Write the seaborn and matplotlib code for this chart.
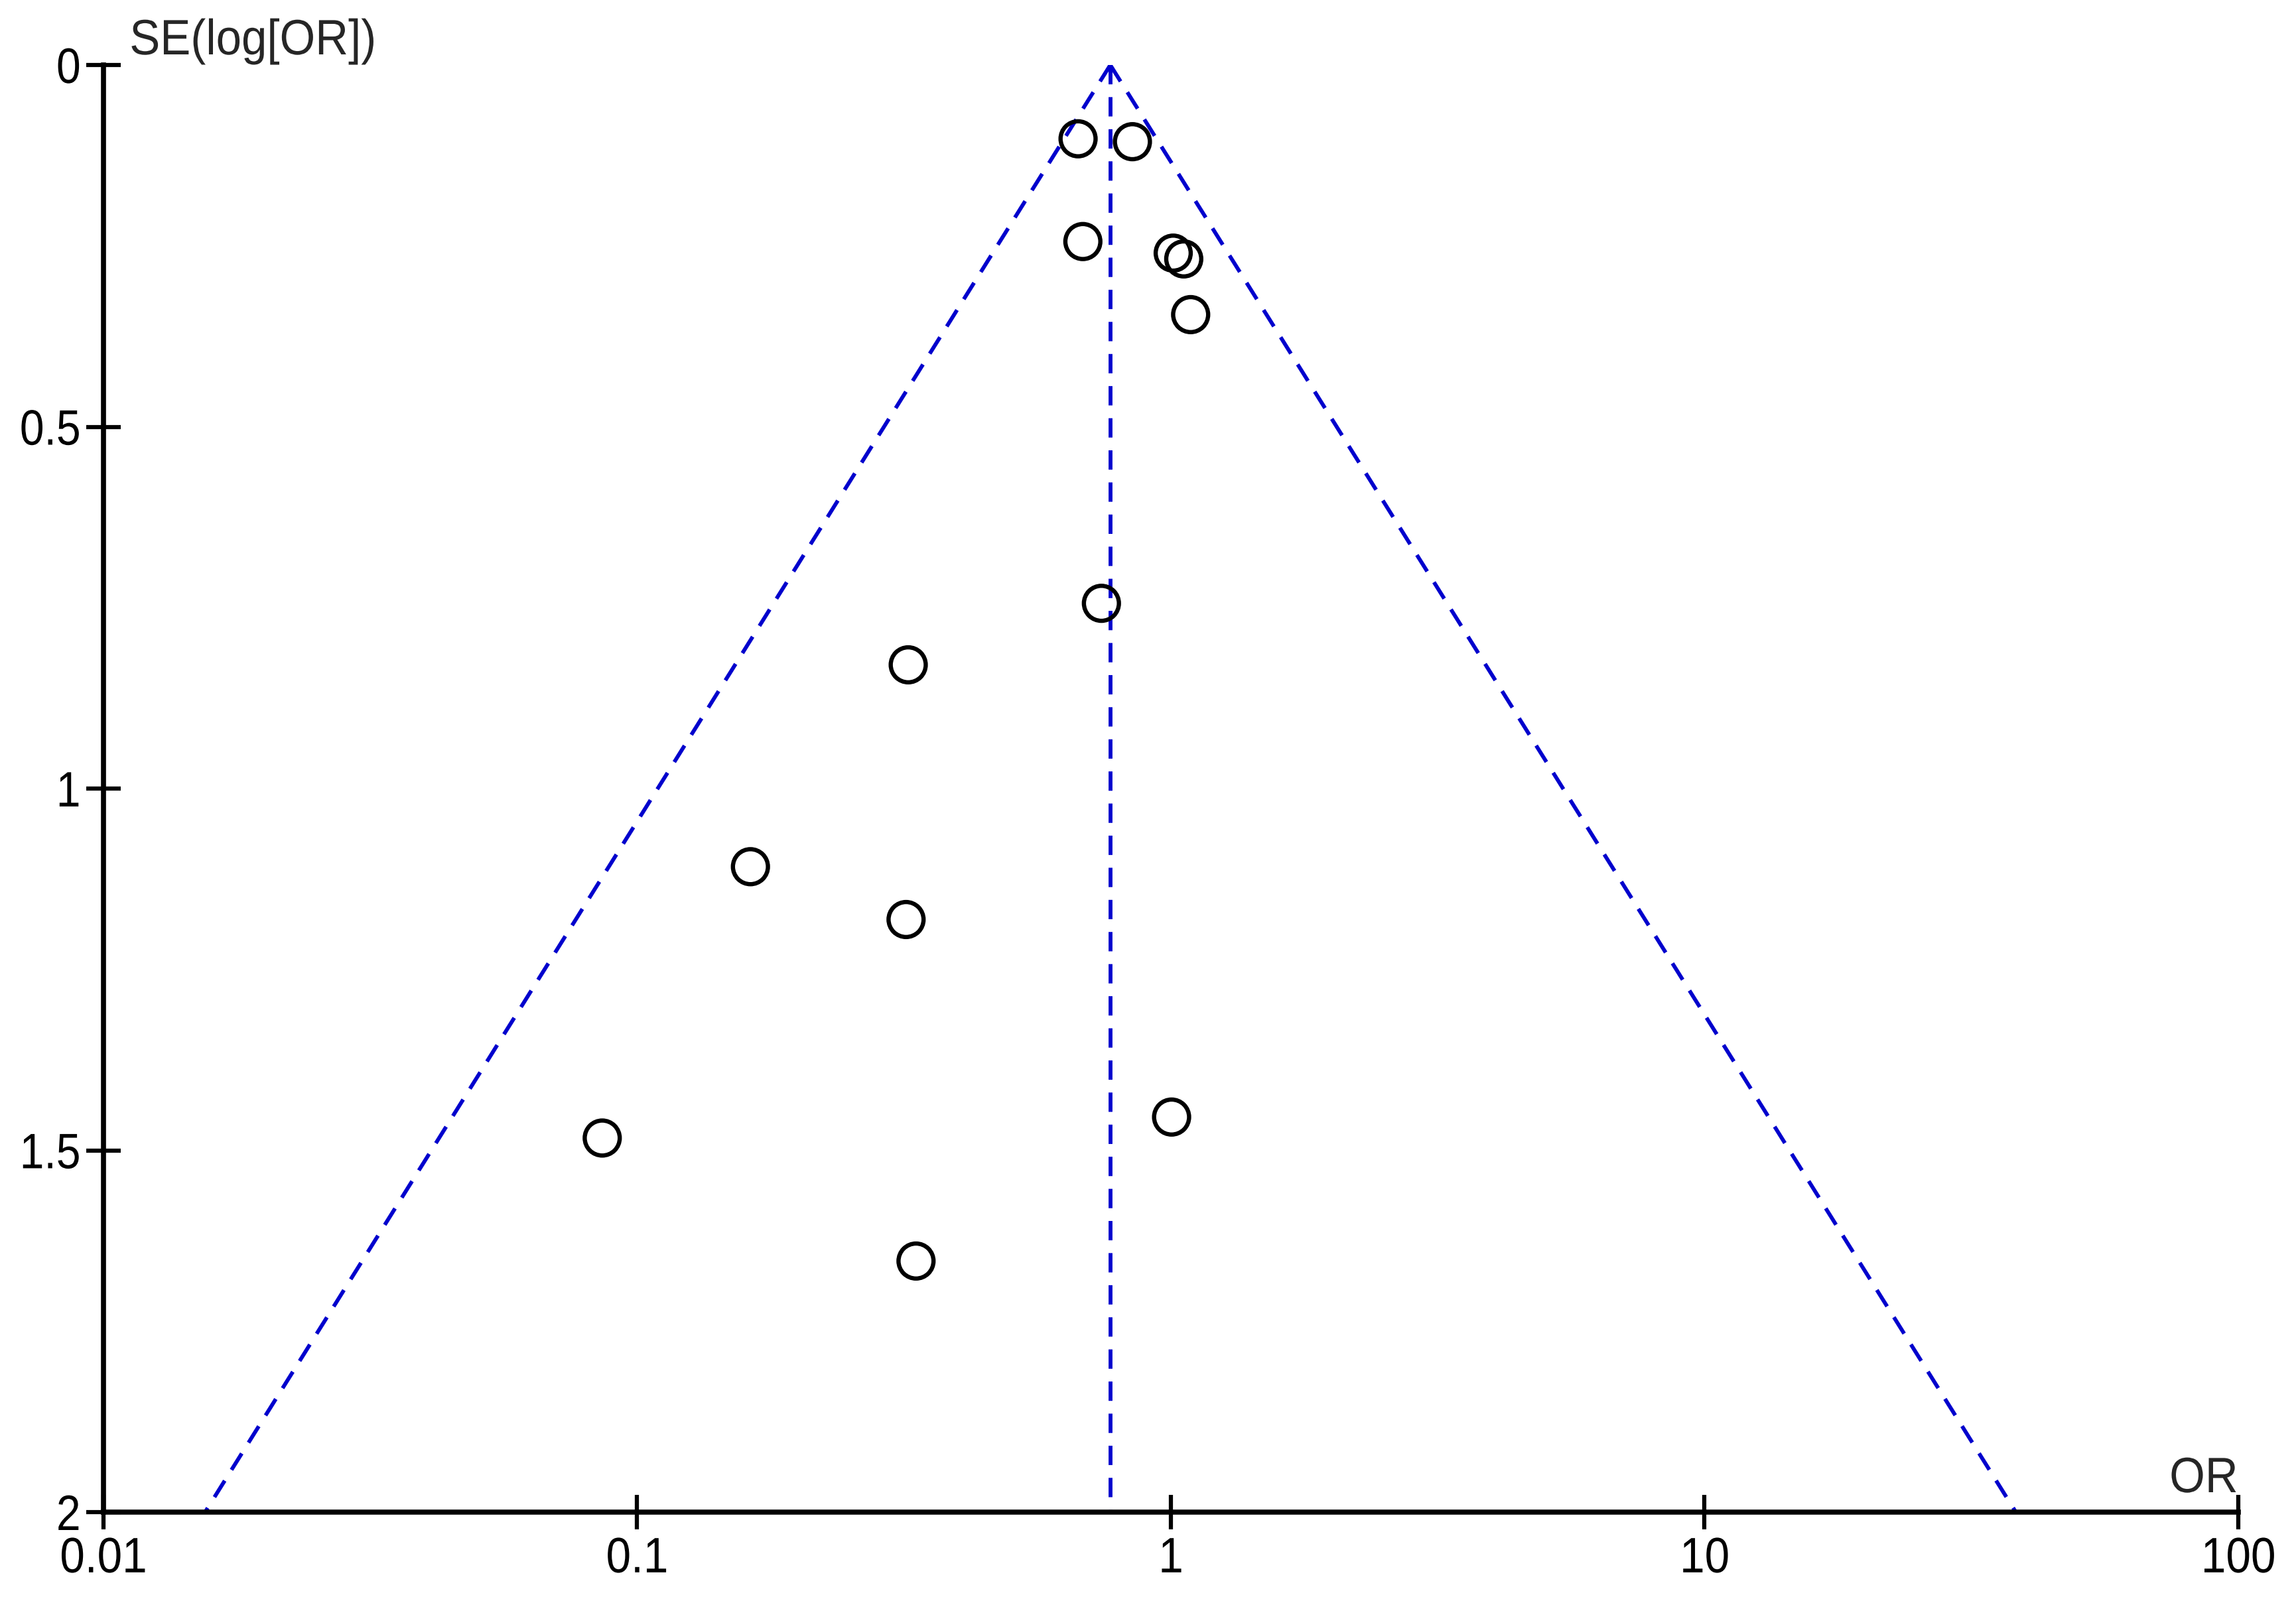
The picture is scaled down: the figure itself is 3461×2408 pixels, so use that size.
import numpy as np
import pandas as pd
import matplotlib
matplotlib.use("Agg")
import matplotlib.pyplot as plt
import matplotlib.patheffects as pe
from matplotlib.transforms import Affine2D
import seaborn as sns

# studies: odds ratio and standard error of log(OR)
odds_ratio = [0.670, 0.847, 0.684, 1.010, 1.057, 1.089, 0.741, 0.322, 0.163, 0.319, 0.086, 1.003, 0.333]
se_log_or = [0.102, 0.106, 0.244, 0.260, 0.268, 0.345, 0.744, 0.829, 1.108, 1.181, 1.483, 1.454, 1.653]

# pooled estimate and funnel limits (OR, SE)
pooled_or = [0.770, 0.770]
pooled_se = [0.0, 2.0]
left_or = [0.770, 0.0155]
right_or = [0.770, 38.3]
funnel_se = [0.0, 2.0]

x_ticks = [0.01, 0.1, 1, 10, 100]
x_tick_labels = ["0.01", "0.1", "1", "10", "100"]
y_ticks = [0, 0.5, 1, 1.5, 2]
y_tick_labels = ["0", "0.5", "1", "1.5", "2"]


class Narrow(pe.AbstractPathEffect):
    # squeeze text horizontally to look like a narrow font
    def __init__(self, sx=0.9, anchor="left"):
        super().__init__()
        self.sx = sx
        self.anchor = anchor

    def draw_path(self, renderer, gc, tpath, affine, rgbFace=None):
        ext = tpath.get_extents()
        if self.anchor == "right":
            x0 = ext.x1
        elif self.anchor == "center":
            x0 = (ext.x0 + ext.x1) / 2
        else:
            x0 = ext.x0
        t = Affine2D().translate(-x0, 0).scale(self.sx, 1).translate(x0, 0) + affine
        renderer.draw_path(gc, tpath, t, rgbFace)


sns.set_style("ticks")
plt.rcParams["font.family"] = ["Liberation Sans", "DejaVu Sans"]

df = pd.DataFrame({"OR": odds_ratio, "SE": se_log_or})

fig = plt.figure(figsize=(34.62, 24.08), dpi=100)
ax = fig.add_axes([156 / 3462, 1 - 2280 / 2408, (3374 - 156) / 3462, (2280 - 98) / 2408])

blue = "#0000CD"
line_kw = dict(color=blue, linewidth=4.2, dashes=(5.0, 3.3), estimator=None, sort=False, legend=False)
sns.lineplot(x=left_or, y=funnel_se, ax=ax, **line_kw)
sns.lineplot(x=right_or, y=funnel_se, ax=ax, **line_kw)
sns.lineplot(x=pooled_or, y=pooled_se, ax=ax, **line_kw)

sns.scatterplot(data=df, x="OR", y="SE", ax=ax, s=38 ** 2, marker="o",
                facecolors="none", edgecolor="black", linewidth=4.6, zorder=5)

ax.set_xscale("log")
ax.set_xlim(0.01, 100)
ax.set_ylim(2, 0)
ax.set_xticks(x_ticks)
ax.set_xticklabels(x_tick_labels)
ax.set_yticks(y_ticks)
ax.set_yticklabels(y_tick_labels)
ax.xaxis.set_minor_locator(matplotlib.ticker.NullLocator())

ax.set_xlabel("")
ax.set_ylabel("")
sns.despine(ax=ax)
for side in ["left", "bottom"]:
    ax.spines[side].set_linewidth(5.5)
    ax.spines[side].set_color("black")

ax.tick_params(axis="both", direction="inout", length=37, width=4.5, colors="black", labelsize=54)
ax.tick_params(axis="y", pad=6)
ax.tick_params(axis="x", pad=8)

for lab in ax.get_yticklabels():
    lab.set_path_effects([Narrow(0.88, "right")])
for lab in ax.get_xticklabels():
    lab.set_path_effects([Narrow(0.9, "center")])

fig.text(195 / 3462, 1 - 82 / 2408, "SE(log[OR])", ha="left", va="baseline", fontsize=54,
         path_effects=[Narrow(0.92, "left")])
fig.text(3374 / 3462, 1 - 2250 / 2408, "OR", ha="right", va="baseline", fontsize=54,
         path_effects=[Narrow(0.92, "right")])

fig.savefig("out.png", dpi=100, facecolor="white")
